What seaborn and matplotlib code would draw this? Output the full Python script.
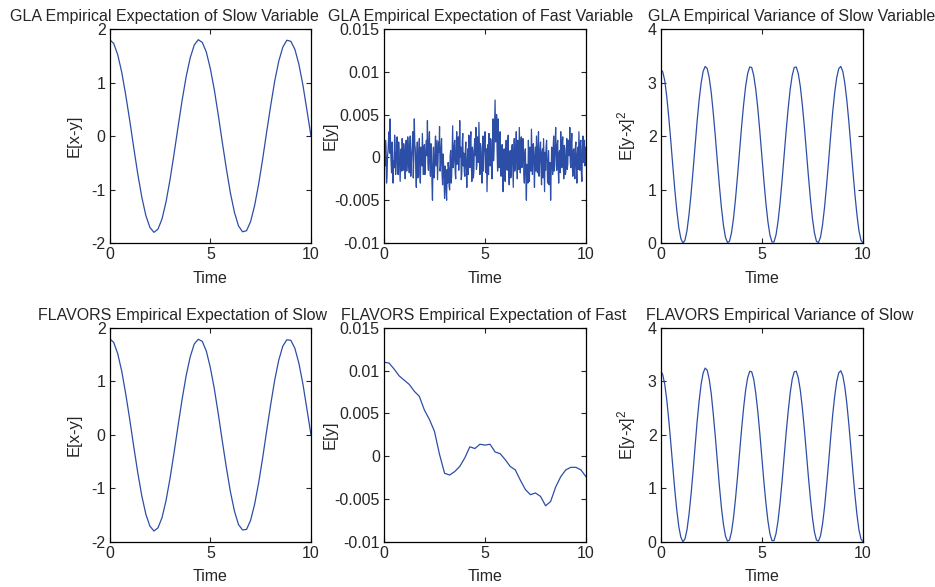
import matplotlib
matplotlib.use("Agg")
import matplotlib.pyplot as plt
import numpy as np
import seaborn as sns
from matplotlib.ticker import FuncFormatter

# --- data ------------------------------------------------------------------
t_slow = np.round(np.arange(0, 10.0001, 0.2), 2)
gla_slow = [
    1.80, 1.73, 1.52, 1.19, 0.76, 0.28, -0.23, -0.72, -1.15, -1.49,
    -1.71, -1.80, -1.74, -1.55, -1.23, -0.81, -0.33, 0.18, 0.67, 1.11,
    1.46, 1.70, 1.80, 1.75, 1.57, 1.26, 0.86, 0.38, -0.13, -0.62,
    -1.07, -1.43, -1.68, -1.79, -1.77, -1.60, -1.30, -0.90, -0.43, 0.08,
    0.57, 1.03, 1.40, 1.66, 1.79, 1.77, 1.62, 1.34, 0.95, 0.48,
    0.00,
]
flavors_slow = [
    1.80, 1.73, 1.52, 1.19, 0.76, 0.28, -0.23, -0.72, -1.15, -1.49,
    -1.71, -1.80, -1.74, -1.55, -1.23, -0.81, -0.33, 0.18, 0.67, 1.11,
    1.46, 1.70, 1.79, 1.75, 1.57, 1.26, 0.86, 0.38, -0.13, -0.62,
    -1.07, -1.43, -1.68, -1.78, -1.77, -1.60, -1.30, -0.90, -0.43, 0.08,
    0.57, 1.03, 1.40, 1.66, 1.78, 1.77, 1.62, 1.34, 0.95, 0.48,
    0.00,
]

t_var = np.round(np.arange(0, 10.0001, 0.1), 2)
gla_var = [
    3.25, 3.20, 3.04, 2.74, 2.35, 1.91, 1.44, 0.99, 0.60, 0.28,
    0.08, 0.00, 0.05, 0.23, 0.53, 0.91, 1.35, 1.81, 2.27, 2.67,
    2.99, 3.21, 3.30, 3.26, 3.09, 2.81, 2.43, 2.00, 1.53, 1.08,
    0.67, 0.34, 0.11, 0.01, 0.03, 0.19, 0.46, 0.83, 1.26, 1.72,
    2.18, 2.59, 2.93, 3.17, 3.29, 3.28, 3.13, 2.87, 2.52, 2.09,
    1.63, 1.17, 0.75, 0.40, 0.15, 0.02, 0.02, 0.15, 0.40, 0.75,
    1.17, 1.63, 2.09, 2.51, 2.87, 3.13, 3.28, 3.29, 3.17, 2.93,
    2.59, 2.18, 1.72, 1.26, 0.83, 0.46, 0.19, 0.03, 0.01, 0.11,
    0.34, 0.67, 1.08, 1.53, 2.00, 2.44, 2.81, 3.09, 3.26, 3.30,
    3.21, 2.99, 2.67, 2.27, 1.81, 1.35, 0.91, 0.53, 0.23, 0.05,
    0.00,
]
flavors_var = [
    3.20, 3.13, 2.95, 2.66, 2.28, 1.85, 1.40, 0.96, 0.58, 0.27,
    0.08, 0.00, 0.05, 0.22, 0.51, 0.88, 1.31, 1.78, 2.24, 2.63,
    2.95, 3.16, 3.25, 3.21, 3.04, 2.77, 2.39, 1.97, 1.51, 1.05,
    0.65, 0.33, 0.11, 0.01, 0.03, 0.18, 0.45, 0.81, 1.22, 1.67,
    2.11, 2.51, 2.84, 3.07, 3.19, 3.18, 3.04, 2.78, 2.44, 2.03,
    1.58, 1.13, 0.73, 0.39, 0.15, 0.02, 0.02, 0.15, 0.39, 0.73,
    1.13, 1.58, 2.03, 2.43, 2.78, 3.04, 3.18, 3.19, 3.07, 2.84,
    2.51, 2.11, 1.67, 1.22, 0.81, 0.45, 0.18, 0.03, 0.01, 0.11,
    0.33, 0.65, 1.05, 1.48, 1.94, 2.37, 2.72, 3.00, 3.16, 3.20,
    3.11, 2.90, 2.59, 2.20, 1.76, 1.31, 0.88, 0.51, 0.22, 0.05,
    0.00,
]

# noisy GLA fast-variable mean, 40 samples per time unit
t_fast = np.round(np.arange(0, 10.0001, 0.025), 3)
gla_fast = [
    0.0028, -0.0006, -0.0010, 0.0020, 0.0012, -0.0030, -0.0022, 0.0002, 0.0008, 0.0022,
    0.0030, 0.0005, 0.0045, 0.0012, -0.0005, -0.0018, 0.0018, 0.0004, -0.0030, -0.0004,
    -0.0012, 0.0026, 0.0015, -0.0020, -0.0008, 0.0010, 0.0024, -0.0014, -0.0020, 0.0018,
    0.0006, -0.0012, -0.0028, 0.0002, 0.0010, -0.0016, 0.0022, 0.0000, -0.0015, 0.0016,
    0.0008, -0.0004, -0.0025, 0.0012, 0.0020, -0.0016, -0.0006, 0.0024, 0.0012, -0.0008,
    -0.0018, 0.0014, 0.0025, -0.0022, -0.0010, 0.0006, 0.0016, 0.0030, -0.0024, -0.0002,
    0.0045, 0.0015, 0.0010, -0.0016, -0.0035, 0.0004, 0.0018, -0.0024, -0.0012, 0.0008,
    0.0022, -0.0018, -0.0030, 0.0012, 0.0005, -0.0010, 0.0028, 0.0006, -0.0020, 0.0010,
    0.0015, -0.0020, -0.0008, 0.0012, 0.0020, 0.0002, 0.0043, -0.0006, -0.0015, 0.0018,
    0.0030, -0.0012, -0.0022, 0.0016, 0.0010, -0.0030, -0.0050, -0.0008, 0.0012, -0.0024,
    -0.0018, 0.0008, 0.0025, -0.0010, 0.0005, 0.0020, -0.0026, -0.0004, 0.0018, 0.0006,
    0.0036, -0.0016, -0.0010, 0.0012, 0.0022, -0.0020, -0.0032, 0.0004, -0.0008, -0.0028,
    -0.0048, -0.0010, -0.0020, -0.0040, -0.0050, -0.0014, -0.0030, -0.0006, -0.0012, -0.0034,
    -0.0038, 0.0002, 0.0008, -0.0030, -0.0022, 0.0010, 0.0037, -0.0012, -0.0005, 0.0014,
    0.0020, -0.0018, -0.0025, 0.0012, 0.0030, -0.0008, 0.0010, 0.0024, -0.0015, 0.0004,
    0.0043, 0.0000, 0.0012, -0.0026, -0.0020, 0.0018, 0.0028, -0.0010, 0.0005, -0.0016,
    -0.0022, 0.0006, 0.0018, -0.0014, -0.0035, -0.0004, 0.0010, -0.0020, 0.0026, 0.0004,
    -0.0012, 0.0020, 0.0030, -0.0008, -0.0028, 0.0012, 0.0008, -0.0024, -0.0016, 0.0014,
    0.0022, 0.0002, 0.0035, -0.0014, -0.0010, 0.0024, 0.0015, -0.0006, 0.0041, 0.0010,
    -0.0020, 0.0016, 0.0012, -0.0012, -0.0030, 0.0008, 0.0025, -0.0016, 0.0002, 0.0018,
    0.0030, 0.0004, -0.0018, 0.0010, -0.0040, -0.0012, 0.0015, -0.0020, 0.0028, 0.0006,
    -0.0010, 0.0022, 0.0020, -0.0014, -0.0025, 0.0016, 0.0045, -0.0004, 0.0010, 0.0036,
    0.0067, 0.0018, 0.0025, 0.0050, 0.0008, -0.0016, 0.0045, 0.0004, -0.0012, 0.0020,
    0.0030, -0.0020, -0.0022, 0.0010, 0.0015, -0.0026, -0.0040, 0.0006, 0.0010, -0.0018,
    -0.0028, 0.0004, 0.0020, -0.0010, -0.0015, 0.0012, 0.0026, -0.0018, -0.0032, 0.0002,
    0.0008, -0.0024, -0.0020, 0.0010, 0.0015, -0.0012, -0.0035, 0.0006, 0.0022, -0.0016,
    -0.0010, 0.0014, 0.0030, -0.0006, -0.0025, 0.0020, 0.0012, -0.0014, 0.0035, 0.0008,
    -0.0018, 0.0016, 0.0024, -0.0012, -0.0008, 0.0022, 0.0018, -0.0020, -0.0030, 0.0004,
    0.0010, -0.0024, -0.0050, -0.0008, -0.0015, -0.0030, 0.0020, -0.0010, -0.0028, 0.0012,
    0.0005, -0.0016, 0.0033, 0.0008, -0.0020, 0.0014, 0.0016, -0.0012, -0.0035, 0.0002,
    0.0012, -0.0016, 0.0025, 0.0004, -0.0018, 0.0012, 0.0030, -0.0022, -0.0008, 0.0010,
    0.0018, -0.0014, -0.0032, 0.0006, 0.0010, -0.0024, 0.0022, -0.0010, -0.0040, 0.0006,
    -0.0015, 0.0012, 0.0020, -0.0008, -0.0030, -0.0012, 0.0008, -0.0032, -0.0022, -0.0006,
    -0.0050, -0.0020, 0.0012, 0.0002, -0.0020, 0.0010, 0.0025, -0.0016, -0.0010, 0.0018,
    0.0035, 0.0004, -0.0015, 0.0014, 0.0020, -0.0010, -0.0030, 0.0006, 0.0008, -0.0018,
    0.0030, 0.0012, -0.0012, 0.0016, 0.0024, -0.0008, -0.0025, 0.0014, 0.0010, -0.0020,
    -0.0018, 0.0006, 0.0022, -0.0014, -0.0008, 0.0020, 0.0015, 0.0002, 0.0035, -0.0006,
    -0.0012, 0.0016, 0.0028, -0.0010, -0.0022, 0.0008, 0.0010, -0.0016, -0.0025, 0.0012,
    0.0018, -0.0012, -0.0030, 0.0004, 0.0012, -0.0014, 0.0030, 0.0006, -0.0015, 0.0018,
    0.0020, -0.0020, -0.0028, 0.0010, 0.0025, -0.0006, 0.0008, 0.0020, -0.0010, 0.0012,
    0.0002,
]

t_flav = np.round(np.arange(0, 10.0001, 0.25), 2)
flavors_fast = [
    0.0110, 0.0109, 0.0102, 0.0094, 0.0089, 0.0084, 0.0076, 0.0070, 0.0054, 0.0043,
    0.0029, 0.0002, -0.0020, -0.0022, -0.0018, -0.0012, -0.0002, 0.0011, 0.0009, 0.0014,
    0.0013, 0.0014, 0.0005, 0.0003, -0.0004, -0.0012, -0.0016, -0.0028, -0.0039, -0.0045,
    -0.0043, -0.0047, -0.0058, -0.0053, -0.0036, -0.0024, -0.0016, -0.0013, -0.0013, -0.0016,
    -0.0024,
]

titles = [
    "GLA Empirical Expectation of Slow Variable",
    "GLA Empirical Expectation of Fast Variable",
    "GLA Empirical Variance of Slow Variable",
    "FLAVORS Empirical Expectation of Slow",
    "FLAVORS Empirical Expectation of Fast",
    "FLAVORS Empirical Variance of Slow",
]
ylabels = ["E[x-y]", "E[y]", "E[y-x]$^{2}$"]

# --- styling ---------------------------------------------------------------
sns.set_style("ticks")
plt.rcParams["font.family"] = ["Liberation Sans", "DejaVu Sans"]
plt.rcParams["mathtext.default"] = "regular"
plt.rcParams["axes.unicode_minus"] = False

LINE = "#2d4ea6"

fig = plt.figure(figsize=(9.35, 5.87), dpi=100)

col_left = [0.1173, 0.4107, 0.7066]
col_w = [0.2153, 0.2160, 0.2164]
row_bottom = [0.586, 0.0772]
row_h = [0.3646, 0.364]

panels = [
    (t_slow, gla_slow), (t_fast, gla_fast), (t_var, gla_var),
    (t_slow, flavors_slow), (t_flav, flavors_fast), (t_var, flavors_var),
]
ylims = [(-2, 2), (-0.01, 0.015), (0, 4)]
yticks = [[-2, -1, 0, 1, 2],
          [-0.01, -0.005, 0, 0.005, 0.01, 0.015],
          [0, 1, 2, 3, 4]]
title_x = [0.27, 0.48, 0.645, 0.36, 0.495, 0.59]
ylabel_x = [-0.138, -0.228, -0.112]

for i, (x, y) in enumerate(panels):
    r, c = divmod(i, 3)
    ax = fig.add_axes([col_left[c], row_bottom[r], col_w[c], row_h[r]])
    sns.lineplot(x=x, y=y, ax=ax, color=LINE, linewidth=0.9)
    ax.set_xlim(0, 10)
    ax.set_ylim(*ylims[c])
    ax.set_xticks([0, 5, 10])
    ax.set_yticks(yticks[c])
    ax.xaxis.set_major_formatter(FuncFormatter(lambda v, p: f"{v:g}"))
    ax.yaxis.set_major_formatter(FuncFormatter(lambda v, p: f"{v:g}"))
    ax.tick_params(direction="in", top=True, right=True, length=3.5,
                   width=0.8, labelsize=11.5, pad=3)
    for s in ax.spines.values():
        s.set_linewidth(0.9)
        s.set_color("black")
    ax.set_xlabel("Time", fontsize=11.5, labelpad=6)
    ax.set_ylabel(ylabels[c], fontsize=12)
    ax.yaxis.set_label_coords(ylabel_x[c], 0.5)
    ax.set_title(titles[i], fontsize=11.5, x=title_x[i], pad=6)

fig.savefig("out.png", dpi=100)
